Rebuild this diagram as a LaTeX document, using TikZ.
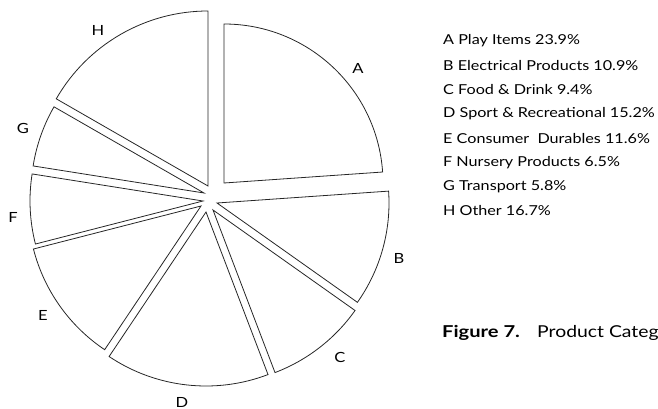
\documentclass[tikz,border=0pt]{standalone}
\usepackage{fontspec}
\setmainfont{Lato}[FakeStretch=1.18]
\begin{document}
\begin{tikzpicture}[x=1pt,y=-1pt,
  slice/.style={draw=black!85,line width=0.8pt,line join=miter},
  lab/.style={font=\fontsize{14}{16}\selectfont,inner sep=0pt},
  leg/.style={font=\fontsize{13.7}{16}\selectfont,inner sep=0pt,anchor=west},
  capt/.style={font=\fontsize{16.4}{18}\selectfont,inner sep=0pt,anchor=west}]
\useasboundingbox (0,0) rectangle (658,409);
% slices (tikz angle = - screen math angle)
\draw[slice] (224,183) -- ++(-90:159) arc[start angle=-90, end angle=-3.96, radius=159] -- cycle;
\draw[slice] (217,203) -- ++(-3.96:172) arc[start angle=-3.96, end angle=35.28, radius=172] -- cycle;
\draw[slice] (213,210) -- ++(35.28:174) arc[start angle=35.28, end angle=69.12, radius=174] -- cycle;
\draw[slice] (206,212) -- ++(69.12:174) arc[start angle=69.12, end angle=123.84, radius=174] -- cycle;
\draw[slice] (201,206) -- ++(123.84:173) arc[start angle=123.84, end angle=165.6, radius=173] -- cycle;
\draw[slice] (203,201) -- ++(165.6:173) arc[start angle=165.6, end angle=189, radius=173] -- cycle;
\draw[slice] (204,193) -- ++(189:173) arc[start angle=189, end angle=209.88, radius=173] -- cycle;
\draw[slice] (208,186) -- ++(209.88:175) arc[start angle=209.88, end angle=270, radius=175] -- cycle;
% slice labels
\node[lab] (la) at (358,68) {A};
\node[lab] (lb) at (399,258) {B};
\node[lab] (lc) at (340,357) {C};
\node[lab] (ld) at (182,402) {D};
\node[lab] (le) at (43,315) {E};
\node[lab] (lf) at (13,217) {F};
\node[lab] (lg) at (23,128) {G};
\node[lab] (lh) at (98,30) {H};
% legend
\node[leg] (ga) at (443,41) {A Play Items 23.9\%};
\node[leg] (gb) at (443,65.3) {B Electrical Products 10.9\%};
\node[leg] (gc) at (443,89.6) {C Food \& Drink 9.4\%};
\node[leg] (gd) at (443,113.9) {D Sport \& Recreational 15.2\%};
\node[leg] (ge) at (443,138.2) {E Consumer\ \ Durables 11.6\%};
\node[leg] (gf) at (443,162.5) {F Nursery Products 6.5\%};
\node[leg] (gg) at (443,186.8) {G Transport 5.8\%};
\node[leg] (gh) at (443,211) {H Other 16.7\%};
% caption
\node[capt] (fig) at (442,333) {\scalebox{1.04}[1]{\textbf{Figure 7.}}};
\node[capt] (cap) at (537,333) {Product Categ};
\end{tikzpicture}
\end{document}
